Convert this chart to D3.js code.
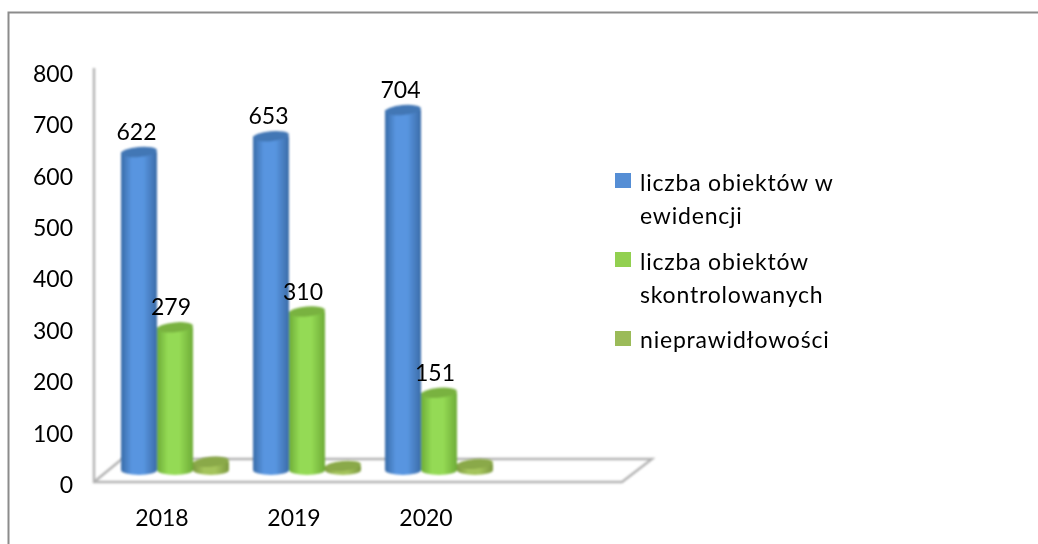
<!DOCTYPE html>
<html>
<head>
<meta charset="utf-8">
<script src="https://cdn.jsdelivr.net/npm/d3@7"></script>
<style>
  html, body { margin: 0; padding: 0; background: #fff; }
  svg { display: block; }
  text { font-family: Lato, "Open Sans", sans-serif; fill: #000; }
</style>
</head>
<body>
<script>
const years = ["2018", "2019", "2020"];
const seriesNames = ["liczba obiektów w ewidencji", "liczba obiektów skontrolowanych", "nieprawidłowości"];
const evidence = [622, 653, 704];
const checked = [279, 310, 151];
const faults = [16, 8, 12];
const yTicks = [0, 100, 200, 300, 400, 500, 600, 700, 800];
const legendLines = [["liczba obiektów w", "ewidencji"], ["liczba obiektów", "skontrolowanych"], ["nieprawidłowości"]];

const width = 1038, height = 544;
const seriesValues = [evidence, checked, faults];
const fills = [
  { edge: "#3a6ca8", mid: "#5895e0", top: "#4377b5", swatch: "#558ed5" },
  { edge: "#6eac38", mid: "#94da54", top: "#79b240", swatch: "#92d050" },
  { edge: "#7c993f", mid: "#a4c45c", top: "#8aa948", swatch: "#9bbb59" }
];

const svg = d3.select("body").append("svg")
  .attr("width", width)
  .attr("height", height);

const defs = svg.append("defs");
defs.append("filter").attr("id", "soft")
  .append("feGaussianBlur").attr("stdDeviation", 0.8);
defs.append("filter").attr("id", "softText")
  .append("feGaussianBlur").attr("stdDeviation", 0.3);
fills.forEach(function(c, i) {
  var grad = defs.append("linearGradient").attr("id", "cyl" + i);
  grad.append("stop").attr("offset", "0%").attr("stop-color", c.edge);
  grad.append("stop").attr("offset", "30%").attr("stop-color", c.mid);
  grad.append("stop").attr("offset", "62%").attr("stop-color", c.mid);
  grad.append("stop").attr("offset", "100%").attr("stop-color", c.edge);
});

// frame, only top and left are visible in the picture
svg.append("path")
  .attr("d", "M8.5," + height + "V12.5H" + width)
  .attr("fill", "none")
  .attr("stroke", "#8c8c8c")
  .attr("stroke-width", 2);

// 4 slots, the last one stays empty like in the original
const x = d3.scaleBand().domain(years.concat([""])).range([94, 622]);
// labels sit on the front of the floor, bars stand further back
const yLabel = d3.scaleLinear().domain([0, 800]).range([485, 74]);
const yBar = d3.scaleLinear().domain([0, 800]).range([470, 61]);

const barW = 36;
const ry = 5;

// walls and floor
const wall = svg.append("g")
  .attr("fill", "none")
  .attr("stroke", "#b2b2b2")
  .attr("stroke-width", 2.4)
  .attr("filter", "url(#soft)");
wall.append("path").attr("d", "M94,68V482H622L652,459H122L94,482");

// axis labels
const yAxis = d3.axisLeft(yLabel).tickValues(yTicks).tickSize(0).tickPadding(0);
const yG = svg.append("g")
  .attr("transform", "translate(73,0)")
  .attr("filter", "url(#softText)")
  .call(yAxis);
yG.select(".domain").remove();
yG.selectAll("text").style("font-size", "23px").style("font-family", "Lato").attr("fill", "#000");

const xAxis = d3.axisBottom(x).tickValues(years).tickSize(0).tickPadding(0);
const xG = svg.append("g")
  .attr("transform", "translate(2,510)")
  .attr("filter", "url(#softText)")
  .call(xAxis);
xG.select(".domain").remove();
xG.selectAll("text").style("font-size", "23px").style("font-family", "Lato").attr("fill", "#000");

// cylinders
const labelShift = [-2.5, -4];
const bars = svg.append("g").attr("filter", "url(#soft)");
years.forEach(function(year, yi) {
  seriesValues.forEach(function(values, si) {
    var left = x(year) + x.bandwidth() / 2 - 39 + si * barW;
    var cx = left + barW / 2;
    var top = yBar(values[yi]), base = yBar(0);
    bars.append("path")
      .attr("d", "M" + left + "," + top + "V" + base +
        "A" + (barW / 2) + "," + ry + " 0 0,0 " + (left + barW) + "," + base +
        "V" + top + "Z")
      .attr("fill", "url(#cyl" + si + ")");
    bars.append("ellipse")
      .attr("cx", cx).attr("cy", top)
      .attr("rx", barW / 2).attr("ry", ry)
      .attr("transform", "rotate(-5," + cx + "," + top + ")")
      .attr("fill", fills[si].top);
    // value labels, the third series has none
    if (si < 2) {
      svg.append("text")
        .attr("x", cx + labelShift[si])
        .attr("y", top - 12)
        .attr("text-anchor", "middle")
        .attr("filter", "url(#softText)")
        .style("font-size", "23px")
        .text(values[yi]);
    }
  });
});

// legend
const legendTop = [173, 252, 331];
const legendBase = [[191, 224], [270, 303], [348]];
legendLines.forEach(function(lines, i) {
  svg.append("rect")
    .attr("x", 615).attr("y", legendTop[i])
    .attr("width", 16).attr("height", 15)
    .attr("fill", fills[i].swatch);
  lines.forEach(function(line, j) {
    svg.append("text")
      .attr("x", 640)
      .attr("y", legendBase[i][j])
      .attr("filter", "url(#softText)")
      .style("font-size", "23px")
      .style("letter-spacing", "0.8px")
      .text(line);
  });
});
</script>
</body>
</html>
